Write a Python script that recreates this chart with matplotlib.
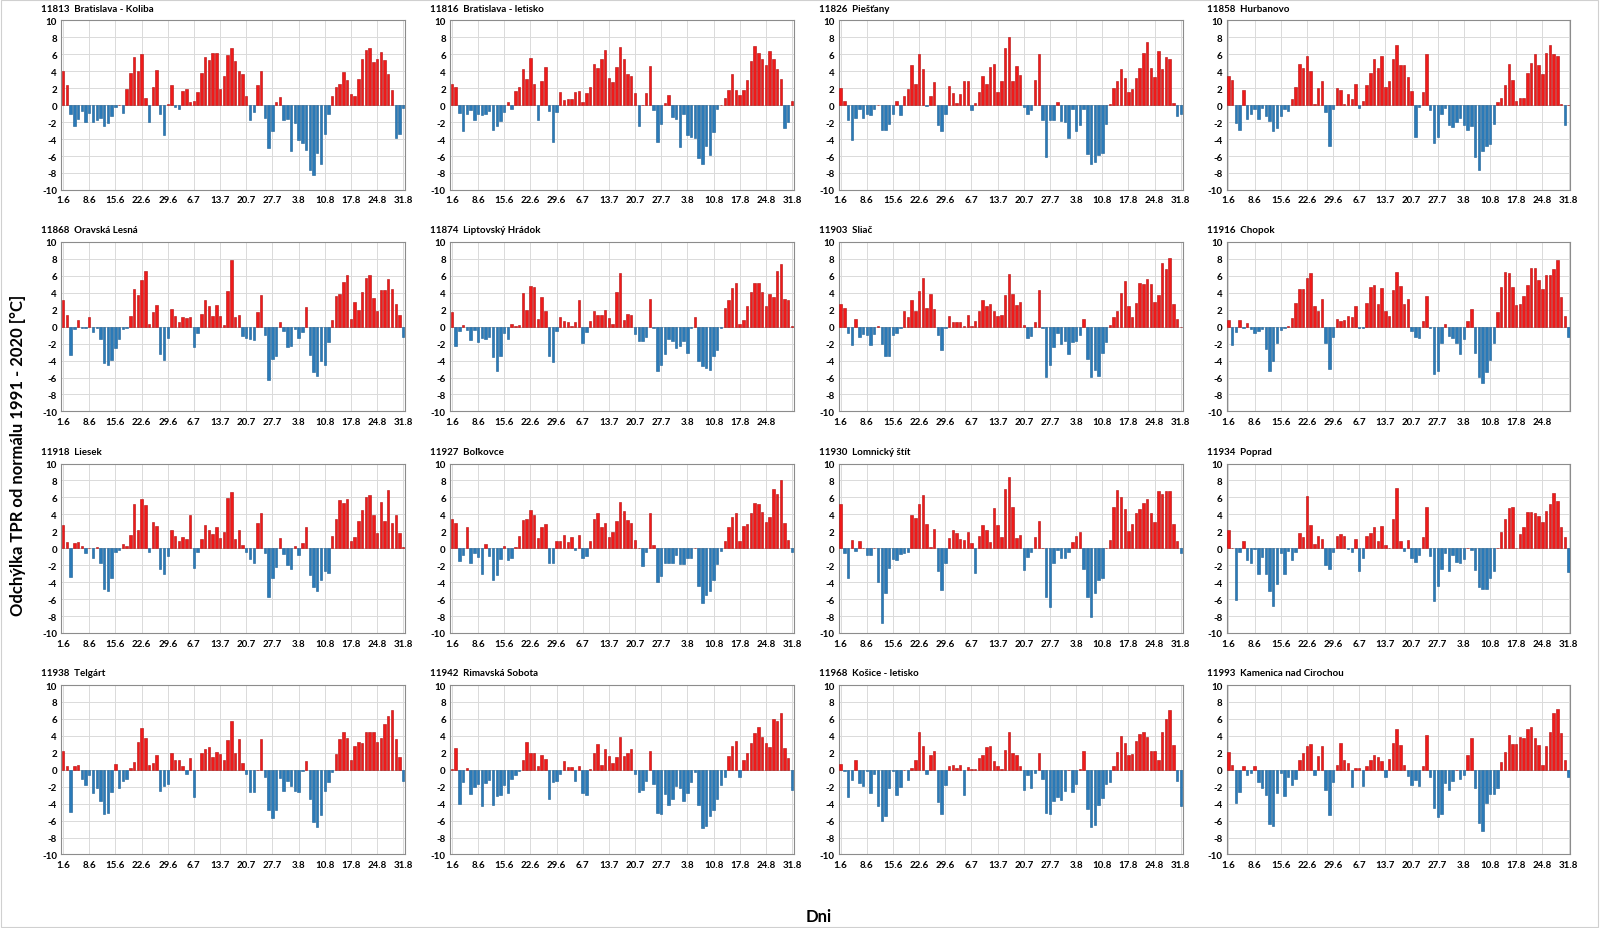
import matplotlib
matplotlib.use("Agg")
import matplotlib.pyplot as plt
from matplotlib.patches import Rectangle
import numpy as np

plt.rcParams['font.family'] = ['Lato', 'DejaVu Sans']
plt.rcParams['axes.unicode_minus'] = False

tick_labels = ["1.6", "8.6", "15.6", "22.6", "29.6", "6.7", "13.7", "20.7",
               "27.7", "3.8", "10.8", "17.8", "24.8", "31.8"]

titles = ["11813  Bratislava - Koliba", "11816  Bratislava - letisko", "11826  Piešťany",
          "11858  Hurbanovo", "11868  Oravská Lesná", "11874  Liptovský Hrádok",
          "11903  Sliač", "11916  Chopok", "11918  Liesek", "11927  Boľkovce",
          "11930  Lomnický štít", "11934  Poprad", "11938  Telgárt",
          "11942  Rimavská Sobota", "11968  Košice - letisko", "11993  Kamenica nad Cirochou"]

koliba = [4.0,2.4,-1.0,-2.5,-1.6,-0.7,-2.0,-0.9,-2.0,-1.8,
          -1.5,-2.4,-2.1,-1.3,-0.2,0.05,-0.9,1.9,3.8,5.7,
          4.0,6.0,0.9,-2.0,2.1,4.2,-1.0,-3.5,0.1,2.4,
          -0.2,-0.5,1.7,1.9,0.4,0.5,1.6,3.8,5.7,5.3,
          6.1,6.1,1.9,3.4,5.9,6.8,5.2,4.0,3.7,1.1,
          -1.7,-0.8,2.4,4.0,-1.5,-5.0,-3.1,0.4,1.0,-1.8,
          -1.6,-5.4,-2.1,-4.1,-4.5,-5.3,-7.7,-8.3,-5.6,-6.9,
          -3.4,-1.0,1.1,2.2,2.5,3.9,3.0,1.3,1.1,3.1,
          5.5,6.5,6.7,5.1,5.5,6.3,5.3,3.7,1.8,-3.9,
          -3.4,-0.3]

ba_letisko = [2.5,2.1,-0.9,-3.0,-1.0,-0.6,-1.7,-1.0,-1.2,-1.0,
              -0.7,-2.9,-2.5,-1.9,-0.8,0.4,-0.5,1.7,2.1,4.3,
              3.1,5.6,2.5,-1.7,2.9,4.5,-0.7,-4.3,-0.8,1.5,
              0.6,0.7,0.7,1.5,1.7,0.4,1.4,2.2,4.9,4.4,
              5.5,6.5,3.2,2.7,4.5,6.9,5.4,3.7,3.5,1.4,
              -2.4,0.05,1.4,4.6,-0.6,-4.3,-2.2,0.3,1.2,-1.4,
              -1.6,-4.9,-1.0,-3.5,-3.7,-3.9,-6.2,-7.0,-4.8,-5.9,
              -3.2,-0.5,0.0,0.9,1.8,3.7,1.8,1.2,1.8,3.0,
              5.2,7.0,6.2,5.4,4.7,6.4,5.5,4.3,3.1,-2.7,
              -2.0,0.5]

piestany = [2.0,0.5,-1.8,-4.1,-1.5,-0.5,-1.5,-1.0,-1.2,-0.5,
            0.0,-2.9,-2.9,-2.2,-1.1,0.5,-1.2,1.1,1.9,4.7,
            2.5,6.0,4.3,-0.1,1.1,2.7,-2.3,-3.1,-1.0,2.3,
            1.4,0.2,1.3,2.9,2.8,-0.6,0.2,1.5,3.4,2.5,
            4.5,4.8,1.6,2.8,6.8,8.1,2.8,4.6,3.6,-0.2,
            -1.1,-0.6,3.0,6.0,-1.7,-6.1,-1.8,-1.7,0.4,-1.9,
            -2.0,-3.9,-0.5,-3.0,-2.3,-0.5,-5.8,-6.9,-6.7,-5.9,
            -5.7,-2.2,0.1,2.0,2.8,4.3,3.2,1.5,1.9,3.2,
            4.4,6.1,7.5,4.4,3.3,6.4,4.3,5.7,5.5,0.2,
            -1.3,-1.0]

hurbanovo = [3.5,3.0,-2.1,-2.9,1.8,-1.6,-1.1,-0.4,-1.6,-0.3,
             -1.3,-1.9,-3.1,-2.7,-1.3,-0.4,-0.7,0.7,2.1,4.8,
             4.4,5.8,4.0,0.1,2.0,2.8,-0.8,-4.8,-0.4,2.0,
             1.8,0.1,1.3,0.7,2.5,-0.3,0.5,2.4,3.8,5.4,
             4.4,5.8,2.1,2.8,5.5,7.1,4.7,4.7,3.3,1.7,
             -3.7,-0.2,1.6,6.0,-0.6,-4.5,-3.8,-1.0,-0.3,-2.3,
             -2.6,-2.0,-1.5,-2.3,-2.9,-2.4,-6.1,-7.7,-5.4,-4.8,
             -4.6,-2.2,0.4,0.9,2.4,4.9,3.0,0.5,0.8,0.9,
             3.8,5.0,6.0,4.7,3.7,6.2,7.1,6.0,5.8,0.1,
             -2.3,0.0]

oravska = [3.1,1.4,-3.3,-0.3,0.8,-0.1,-0.1,1.1,-0.6,-0.2,
           -1.5,-4.3,-4.5,-3.9,-2.5,-1.5,-0.3,-0.1,1.3,4.4,
           3.7,5.5,6.6,0.3,1.7,2.6,-3.2,-3.9,-1.3,2.1,
           1.3,0.5,1.2,1.0,1.2,-2.4,-0.7,1.5,3.1,2.5,
           1.3,2.6,1.3,0.2,4.2,7.9,1.2,1.4,-1.1,-1.3,
           -1.4,-1.6,1.7,3.8,-1.0,-6.3,-3.8,-3.4,0.5,-0.5,
           -2.4,-2.3,-0.3,-1.3,-0.6,2.3,-3.3,-5.4,-5.8,-4.1,
           -4.5,-1.8,0.8,3.6,3.9,5.3,6.1,0.9,2.9,2.0,
           4.1,5.7,6.1,3.4,1.8,4.3,4.3,5.6,4.4,2.7,
           1.4,-1.2]

liptovsky = [1.7,-2.3,-0.5,0.2,-0.4,-1.6,-0.4,-1.8,-1.3,-1.4,
             -1.2,-3.6,-5.2,-3.5,-0.7,-1.4,0.3,0.1,0.2,4.0,
             2.0,4.8,4.7,0.9,3.5,1.9,-3.5,-4.2,-0.5,1.1,
             0.7,0.6,0.1,0.6,3.2,-1.9,-0.6,0.7,1.8,1.4,
             1.4,2.0,1.0,0.3,4.1,6.3,0.8,1.5,1.4,-0.9,
             -1.7,-1.7,-1.2,3.3,-0.2,-5.2,-4.5,-3.2,-1.4,-1.7,
             -2.5,-2.3,-1.7,-3.1,-0.2,1.1,-4.1,-4.6,-4.9,-5.1,
             -3.5,-2.7,-0.1,2.2,3.1,4.6,5.1,0.3,0.8,2.4,
             4.1,5.1,5.1,4.1,2.4,3.9,3.5,6.6,7.4,3.3,
             3.2,0.1]

sliac = [2.7,2.2,-0.8,-2.2,0.9,-1.2,-0.9,-1.0,-2.2,-0.9,
         0.1,-2.1,-3.4,-3.4,-1.0,-0.7,-0.2,1.8,1.1,3.2,
         1.9,4.2,5.7,2.2,3.9,2.1,-1.0,-2.8,-0.1,1.3,
         0.5,0.5,0.6,0.1,1.4,0.1,0.7,1.8,3.2,2.5,
         2.7,1.8,1.3,1.4,3.7,6.2,3.9,2.6,2.9,0.2,
         -1.3,-1.1,0.6,4.3,-0.2,-5.9,-4.5,-2.4,-0.7,-2.0,
         -1.7,-3.2,-1.8,-1.7,-1.0,0.9,-3.8,-5.9,-5.1,-5.8,
         -3.1,-1.8,0.2,1.1,1.8,4.0,5.4,2.4,1.2,2.8,
         5.2,5.0,5.6,5.0,2.9,3.8,7.5,6.8,8.1,2.7,
         0.9,0.0]

chopok = [0.8,-2.2,-0.6,0.8,-0.2,0.4,-0.3,-0.8,-0.5,-0.3,
          -2.6,-5.2,-4.0,-1.9,-0.4,-0.2,0.1,1.0,2.8,4.4,
          4.5,5.8,6.3,2.5,1.9,3.3,-1.9,-5.0,-1.2,0.9,
          0.7,0.8,1.3,1.1,2.5,-0.2,-0.1,2.8,4.7,4.9,
          2.7,4.6,1.9,1.3,4.3,6.4,4.8,2.7,3.3,-0.5,
          -1.2,-1.3,0.7,3.6,-0.2,-5.6,-5.2,-1.9,0.3,-1.1,
          -1.3,-1.9,-3.2,-1.5,0.7,2.1,-3.1,-5.9,-6.6,-5.3,
          -3.9,-1.9,1.7,4.7,6.5,6.3,4.7,2.6,2.7,3.6,
          4.9,6.9,6.9,5.5,4.4,6.1,6.1,6.8,7.9,3.5,
          1.3,-1.2]

liesek = [2.8,0.7,-3.4,0.6,0.7,0.3,-0.6,0.0,-1.1,0.2,
          -1.7,-4.8,-5.1,-3.5,-0.4,-0.2,0.5,0.3,1.6,5.2,
          2.2,5.8,5.1,-0.4,3.1,2.6,-2.4,-3.0,-0.9,2.1,
          1.4,0.9,1.3,1.1,3.9,-2.3,-0.4,1.1,2.7,2.1,
          1.7,2.5,1.2,1.9,5.9,6.6,1.1,2.2,0.4,-0.4,
          -1.3,-1.7,3.0,4.2,-0.6,-5.7,-3.5,-2.2,1.2,-0.7,
          -2.0,-2.5,0.3,-0.8,0.6,2.5,-3.2,-4.6,-5.1,-3.8,
          -2.7,-2.9,1.5,3.4,5.7,5.3,5.8,0.9,1.3,3.2,
          4.5,6.1,6.3,3.9,1.8,5.4,3.2,6.9,3.0,3.9,
          1.8,0.1]

bolkovce = [3.4,3.0,-1.5,-0.8,2.5,-1.7,-0.6,-1.0,-3.0,0.5,
            -0.9,-3.8,-3.2,-1.3,0.3,-1.4,-1.2,0.2,1.4,3.3,
            3.5,4.5,3.9,1.2,2.5,2.9,-1.7,-1.8,0.9,0.9,
            1.6,0.7,1.3,-0.2,1.6,-1.2,-0.9,0.9,3.5,4.2,
            2.5,3.0,1.3,1.9,3.2,5.5,4.4,3.3,3.0,1.0,
            0.0,-2.1,-0.5,4.1,0.4,-4.0,-3.3,-1.8,-1.8,-1.8,
            -0.8,-1.9,-1.9,-1.1,-1.1,0.0,-4.4,-6.5,-5.5,-5.1,
            -3.8,-1.9,-0.3,0.8,2.5,3.7,4.2,0.9,2.6,2.9,
            4.2,5.3,5.2,4.3,3.1,3.7,7.0,6.4,8.1,3.0,
            1.0,-0.5]

lomnicky = [5.2,-0.6,-3.5,1.0,-0.3,0.9,0.0,-0.8,-0.8,0.0,
            -4.0,-8.8,-5.3,-2.3,-1.3,-1.4,-0.7,-0.6,-0.4,3.9,
            3.6,5.2,6.3,2.9,0.2,2.3,-2.7,-4.9,-1.8,1.2,
            2.2,1.8,1.1,1.0,1.9,0.6,-2.9,1.5,2.8,2.2,
            0.7,4.8,2.7,1.3,7.0,8.4,4.9,1.2,1.6,-2.6,
            -1.0,-0.5,1.3,3.2,0.0,-5.7,-6.9,-1.8,-0.2,-1.1,
            -1.1,-0.5,0.7,1.4,1.9,-2.5,-5.8,-8.1,-5.3,-3.8,
            -3.5,0.0,1.0,4.9,6.9,6.0,4.6,2.0,2.9,4.2,
            4.6,5.3,5.8,4.1,3.1,6.7,6.4,6.7,6.7,2.9,
            0.9,-0.6]

poprad = [2.1,0.0,-6.1,-0.5,0.9,-1.4,-1.7,-0.1,-3.0,-1.0,
          -3.0,-5.1,-6.8,-4.2,-0.6,-3.0,-0.3,-1.4,-0.5,1.8,
          1.3,6.2,2.7,0.5,1.5,1.1,-2.0,-2.5,-0.5,1.4,
          1.7,1.5,-0.1,-0.4,1.1,-2.7,-1.1,1.4,1.8,2.5,
          0.9,2.6,0.4,0.0,3.5,7.1,0.9,-0.3,1.0,-1.1,
          -1.6,-0.8,1.3,4.9,-0.9,-6.2,-4.5,-2.4,-0.6,-2.7,
          -0.8,-1.6,-1.7,-1.3,0.0,-0.2,-2.6,-4.6,-4.8,-4.8,
          -3.5,-2.7,0.0,1.9,3.5,4.7,4.9,0.0,1.7,2.5,
          4.3,4.3,4.2,3.8,3.1,4.4,5.2,6.5,5.6,2.5,
          1.3,-2.8]

telgart = [2.2,0.5,-5.0,0.4,0.6,-1.1,-1.8,-0.6,-2.8,-2.1,
           -3.7,-5.2,-5.1,-2.6,0.7,-2.1,-1.3,-1.1,0.2,0.9,
           3.3,4.9,3.8,0.6,0.8,1.8,-2.5,-1.9,-1.7,2.0,
           1.1,1.2,0.4,-0.5,1.4,-3.2,0.0,2.0,2.4,2.7,
           1.5,2.1,1.9,1.1,3.5,5.8,2.0,3.6,0.8,-0.5,
           -2.6,-2.6,0.0,3.6,-0.9,-4.7,-5.7,-4.8,-1.0,-2.5,
           -1.3,-1.9,-2.5,-2.6,-0.1,1.0,-3.5,-6.2,-6.8,-5.3,
           -2.5,-1.5,-0.3,1.9,3.6,4.5,3.8,1.2,2.8,3.3,
           3.1,4.4,4.5,4.5,3.3,3.8,5.4,6.3,7.0,3.6,
           1.5,-1.3]

rimavska = [0.1,2.6,-4.0,-1.5,0.2,-2.9,-2.0,-1.7,-4.3,-1.6,
            -1.2,-4.1,-3.1,-3.0,-1.8,-2.8,-1.1,-0.6,-0.1,1.1,
            3.3,2.0,2.0,0.4,1.7,1.3,-3.4,-1.4,-1.3,-0.5,
            1.0,0.3,0.3,-1.3,0.4,-2.7,-3.0,0.1,2.0,3.0,
            0.6,2.5,1.6,0.8,1.5,3.9,1.6,2.0,2.5,-0.5,
            -2.6,-2.4,-1.3,2.2,-1.7,-5.1,-5.2,-2.9,-4.2,-3.4,
            -1.9,-2.2,-3.7,-2.8,-1.5,-0.3,-4.1,-6.9,-6.6,-5.5,
            -4.8,-3.4,-1.8,-0.8,1.6,2.8,3.4,-0.8,1.1,2.0,
            3.2,4.3,5.0,3.9,3.1,2.7,6.0,5.7,6.7,2.6,
            1.4,-2.4]

kosice = [0.7,-0.1,-3.2,-1.2,1.2,-1.6,-1.9,-0.1,-2.7,-0.5,
          -4.3,-6.1,-5.5,-2.2,-0.1,-3.0,-2.0,0.0,-1.2,0.2,
          1.2,4.4,2.8,-0.5,1.7,2.2,-3.8,-5.2,-1.8,0.5,
          0.6,0.2,0.6,-3.0,0.3,0.1,0.1,1.4,1.8,2.7,
          2.8,1.0,0.5,0.1,2.3,4.4,2.0,1.7,0.5,-2.4,
          -0.6,-2.1,-0.4,2.0,-1.1,-5.1,-5.2,-3.7,-3.2,-3.6,
          -2.5,0.0,-2.6,-1.7,0.1,2.2,-4.6,-6.8,-6.5,-4.1,
          -3.3,-1.7,-1.5,0.5,2.1,4.0,3.2,1.7,1.9,3.4,
          4.2,4.5,3.9,2.2,2.2,1.1,4.4,6.0,7.0,2.9,
          -1.3,-4.3]

kamenica = [2.1,0.6,-3.9,-2.6,0.5,-0.6,-0.4,0.5,-1.5,-2.2,
            -3.0,-6.4,-6.6,-2.7,-0.4,-3.1,-0.9,-1.8,-1.1,1.2,
            2.0,2.8,3.0,-0.6,1.6,2.8,-2.4,-5.3,-1.5,0.6,
            3.1,1.1,0.8,-2.0,0.2,0.2,-1.9,0.4,1.1,1.8,
            1.5,1.0,-0.9,1.3,3.1,4.8,2.9,0.6,-0.7,-1.8,
            -1.2,-1.9,0.5,4.1,-0.9,-4.5,-5.6,-5.2,-1.6,-2.4,
            -1.3,0.0,-1.1,-0.6,1.7,3.8,-2.1,-6.3,-7.2,-3.9,
            -2.9,-2.9,-2.1,0.9,2.1,4.1,3.0,3.0,3.9,3.8,
            4.8,5.0,3.8,2.9,0.6,2.8,4.4,6.7,7.2,4.3,
            1.1,-0.9]

series = [koliba, ba_letisko, piestany, hurbanovo,
          oravska, liptovsky, sliac, chopok,
          liesek, bolkovce, lomnicky, poprad,
          telgart, rimavska, kosice, kamenica]
no_last_label = {5, 7}

RED, RED_EDGE = '#F01A1A', '#B00C0C'
BLUE, BLUE_EDGE = '#2A7AB8', '#1B5E92'

fig = plt.figure(figsize=(16, 9.29), dpi=100)
fig.patches.append(Rectangle((0.0005, 0.0008), 0.998, 0.998, transform=fig.transFigure,
                             fill=False, edgecolor='#D0D0D0', linewidth=0.8))
W, H = 1568.0, 910.0
col_left = [60, 441, 822, 1202]
row_top = [21, 238, 455, 672]
aw, ah = 337, 166

for k, vals in enumerate(series):
    r, c = divmod(k, 4)
    left = col_left[c] / W
    bottom = 1 - (row_top[r] + ah) / H
    ax = fig.add_axes([left, bottom, aw / W, ah / H])
    v = np.array(vals, dtype=float)
    x = np.arange(len(v))
    pos = v >= 0
    ax.bar(x[pos], v[pos], width=0.65, color=RED, edgecolor=RED_EDGE, linewidth=0.4, zorder=3)
    ax.bar(x[~pos], v[~pos], width=0.65, color=BLUE, edgecolor=BLUE_EDGE, linewidth=0.4, zorder=3)
    ax.set_xlim(-0.5, len(v) - 0.5)
    ax.set_ylim(-10, 10)
    ax.set_yticks(np.arange(-10, 11, 2))
    ax.set_yticklabels([str(t) for t in range(-10, 11, 2)], fontsize=7, fontweight='bold')
    tpos = np.arange(0, 92, 7)
    labs = list(tick_labels)
    if k in no_last_label:
        labs = labs[:-1] + [""]
    ax.set_xticks(tpos)
    ax.set_xticklabels(labs, fontsize=7, fontweight='bold')
    ax.tick_params(axis='x', length=0, pad=4)
    ax.tick_params(axis='y', length=0, pad=3)
    ax.grid(True, color='#DADADA', linewidth=0.7, zorder=0)
    ax.set_axisbelow(True)
    ax.axhline(0, color='#BFBFBF', linewidth=0.6, zorder=2)
    for s in ax.spines.values():
        s.set_color('#8C8C8C')
        s.set_linewidth(0.8)
    ax.text(-0.058, 1.045, titles[k], transform=ax.transAxes, fontsize=7,
            fontweight='bold', ha='left', va='bottom')

fig.text(0.0115, 0.51, "Odchýlka TPR od normálu 1991 - 2020 [°C]", rotation=90,
         fontsize=12, fontweight='bold', ha='center', va='center')
fig.text(0.5115, 0.013, "Dni", fontsize=12, fontweight='bold', ha='center', va='center')

fig.savefig("out.png", dpi=100)
